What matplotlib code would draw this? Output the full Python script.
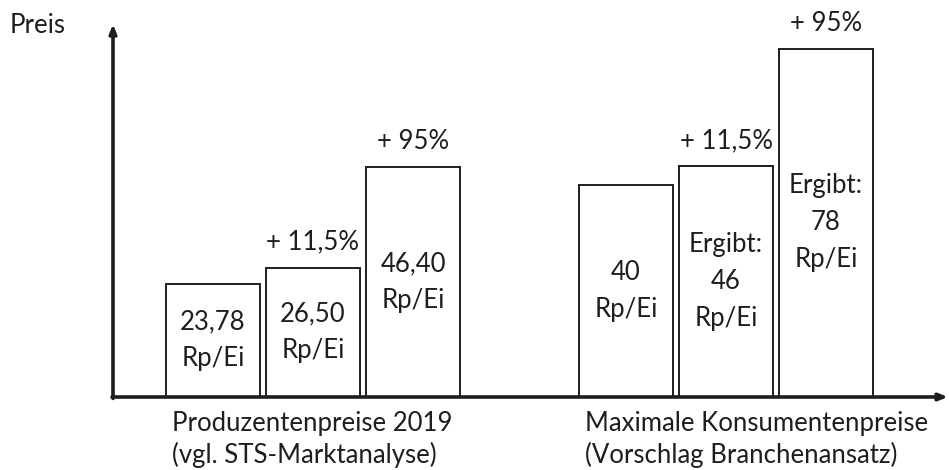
import numpy as np
import matplotlib
matplotlib.use("Agg")
import matplotlib.pyplot as plt

plt.rcParams['font.family'] = ['Lato', 'DejaVu Sans']

# bar heights (relative price units)
heights_prod = [23.8, 27.2, 48.4]
heights_kons = [44.6, 48.6, 73.3]
labels_prod = ["23,78\nRp/Ei", "26,50\nRp/Ei", "46,40\nRp/Ei"]
labels_kons = ["40\nRp/Ei", "Ergibt:\n46\nRp/Ei", "Ergibt:\n78\nRp/Ei"]
steps = ["", "+ 11,5%", "+ 95%"]
groups = ["Produzentenpreise 2019\n(vgl. STS-Marktanalyse)",
          "Maximale Konsumentenpreise\n(Vorschlag Branchenansatz)"]

ink = "#1e1e1e"
fs = 18.5

fig = plt.figure(figsize=(9.49, 4.70), dpi=100)
ax = fig.add_axes([0, 0, 1, 1])
ax.set_xlim(-2.13, 7.36)
ax.set_ylim(-15.37, 83.58)
ax.axis("off")

x_prod = np.arange(3)
x_kons = np.arange(3) + 4.13
width = 0.94

for xs, hs, labs in [(x_prod, heights_prod, labels_prod),
                     (x_kons, heights_kons, labels_kons)]:
    ax.bar(xs, hs, width=width, color="white", edgecolor=ink, linewidth=1.4, zorder=2)
    for x, h, lab, st in zip(xs, hs, labs, steps):
        ax.text(x, h / 2, lab, ha="center", va="center", fontsize=fs,
                color=ink, linespacing=1.6)
        if st:
            ax.text(x, h + 5.4, st, ha="center", va="center", fontsize=fs, color=ink)

# axes with arrows
ax.annotate("", xy=(-1.0, 78.5), xytext=(-1.0, -0.3),
            arrowprops=dict(arrowstyle="-|>,head_length=0.5,head_width=0.2",
                            color=ink, lw=2.6, shrinkA=0, shrinkB=0), zorder=3)
ax.annotate("", xy=(7.35, 0), xytext=(-1.01, 0),
            arrowprops=dict(arrowstyle="-|>,head_length=0.5,head_width=0.2",
                            color=ink, lw=2.6, shrinkA=0, shrinkB=0), zorder=3)

ax.text(-2.03, 78.3, "Preis", ha="left", va="center", fontsize=fs, color=ink)

for x0, g in zip([x_prod[0], x_kons[0]], groups):
    ax.text(x0 - width / 2 + 0.06, -8.9, g, ha="left", va="center",
            fontsize=fs, color=ink, linespacing=1.3)

fig.savefig("out.png", dpi=100)
